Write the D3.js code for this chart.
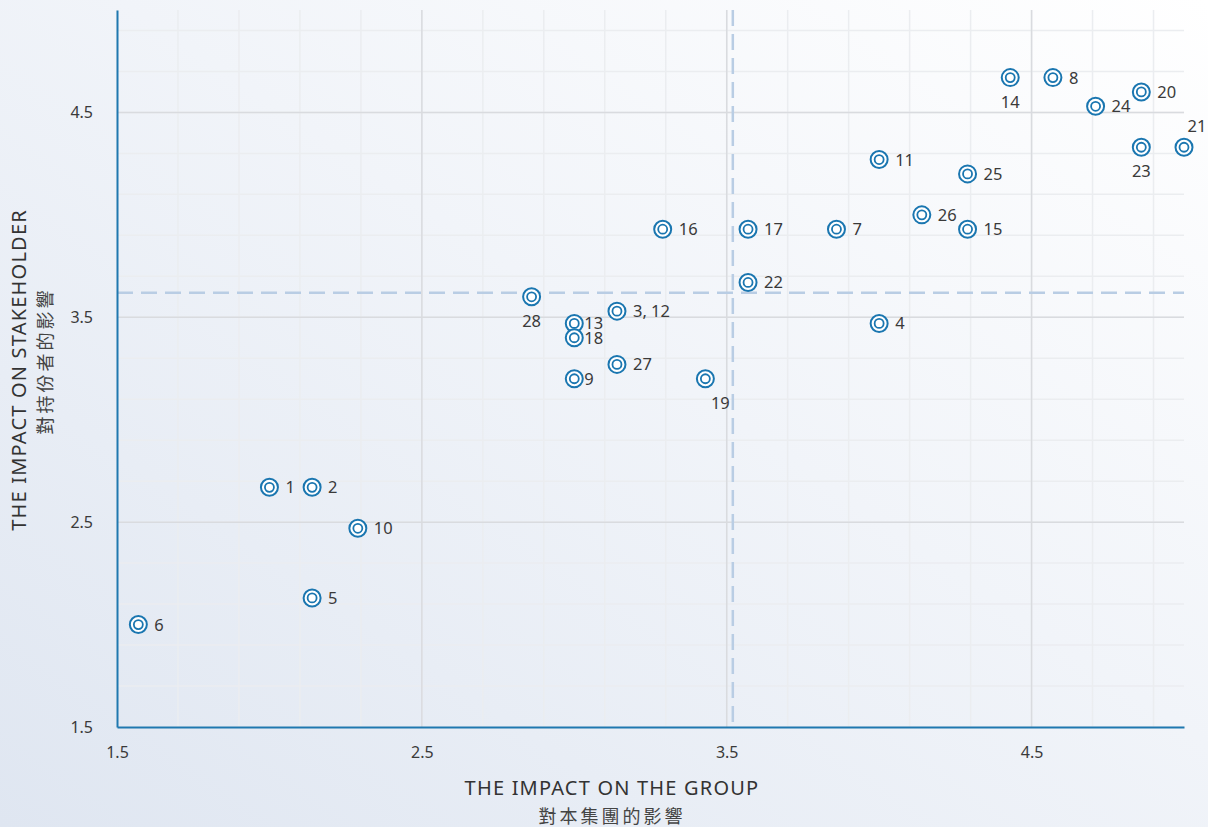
<!DOCTYPE html>
<html>
<head>
<meta charset="utf-8">
<script src="https://cdn.jsdelivr.net/npm/d3@7"></script>
<style>
  body { margin: 0; }
  svg { display: block; font-family: "Noto Sans", "Open Sans", sans-serif; }
</style>
</head>
<body>
<div class="matrix-chart"></div>
<script>
// issue ids and their scores
const issues = ['1','2','3, 12','4','5','6','7','8','9','10','11','13','14','15','16','17','18','19','20','21','22','23','24','25','26','27','28'];
const groupImpact = [2.0,2.14,3.14,4.0,2.14,1.57,3.86,4.57,3.0,2.29,4.0,3.0,4.43,4.29,3.29,3.57,3.0,3.43,4.86,5.0,3.57,4.86,4.71,4.29,4.14,3.14,2.86];
const stakeholderImpact = [2.67,2.67,3.53,3.47,2.13,2.0,3.93,4.67,3.2,2.47,4.27,3.47,4.67,3.93,3.93,3.93,3.4,3.2,4.6,4.33,3.67,4.33,4.53,4.2,4.0,3.27,3.6];
const avgGroup = 3.52;
const avgStakeholder = 3.62;
const tickVals = [1.5, 2.5, 3.5, 4.5];

// where the number sits relative to the marker
const below = ['14','23','28'];
const tight = ['9','13','18'];

const w = 1208;
const h = 827;
const m = {left: 117, right: 24, top: 10, bottom: 100};

const svg = d3.select('.matrix-chart')
  .append('svg')
  .attr('width', w)
  .attr('height', h);

const defs = svg.append('defs');
const grad = defs.append('linearGradient')
  .attr('id', 'bg')
  .attr('x1', '0%').attr('y1', '100%')
  .attr('x2', '100%').attr('y2', '0%');
grad.append('stop').attr('offset', '0%').attr('stop-color', '#dfe6f1');
grad.append('stop').attr('offset', '55%').attr('stop-color', '#f1f4f9');
grad.append('stop').attr('offset', '100%').attr('stop-color', '#ffffff');

svg.append('rect')
  .attr('width', w)
  .attr('height', h)
  .attr('fill', 'url(#bg)');

const x = d3.scaleLinear().domain([1.5, 5.0]).range([m.left, w - m.right]);
const y = d3.scaleLinear().domain([1.5, 5.0]).range([h - m.bottom, m.top]);

// minor grid
svg.append('g')
  .selectAll('line')
  .data(d3.range(18).map(i => 1.5 + i * 0.2))
  .enter()
  .append('line')
  .attr('x1', d => x(d)).attr('x2', d => x(d))
  .attr('y1', y(5.0)).attr('y2', y(1.5))
  .attr('stroke', '#ebedf0')
  .attr('stroke-width', 1.5);

svg.append('g')
  .selectAll('line')
  .data(d3.range(18).map(i => 1.5 + i * 0.2))
  .enter()
  .append('line')
  .attr('x1', x(1.5)).attr('x2', x(5.0))
  .attr('y1', d => y(d)).attr('y2', d => y(d))
  .attr('stroke', '#ebedf0')
  .attr('stroke-width', 1.5);

// major grid
svg.append('g')
  .selectAll('line')
  .data(tickVals.slice(1))
  .enter()
  .append('line')
  .attr('x1', d => x(d)).attr('x2', d => x(d))
  .attr('y1', y(5.0)).attr('y2', y(1.5))
  .attr('stroke', '#d9dbdf')
  .attr('stroke-width', 1.5);

svg.append('g')
  .selectAll('line')
  .data(tickVals.slice(1))
  .enter()
  .append('line')
  .attr('x1', x(1.5)).attr('x2', x(5.0))
  .attr('y1', d => y(d)).attr('y2', d => y(d))
  .attr('stroke', '#d9dbdf')
  .attr('stroke-width', 1.5);

// average lines
svg.append('line')
  .attr('x1', x(avgGroup)).attr('x2', x(avgGroup))
  .attr('y1', y(5.0)).attr('y2', y(1.5))
  .attr('stroke', '#b9cde4')
  .attr('stroke-width', 2.5)
  .attr('stroke-dasharray', '16,8');

svg.append('line')
  .attr('x1', x(1.5)).attr('x2', x(5.0))
  .attr('y1', y(avgStakeholder)).attr('y2', y(avgStakeholder))
  .attr('stroke', '#b9cde4')
  .attr('stroke-width', 2.5)
  .attr('stroke-dasharray', '16,8');

// axes
const xAxis = svg.append('g')
  .attr('transform', `translate(0,${y(1.5)})`)
  .call(d3.axisBottom(x).tickValues(tickVals).tickSize(0).tickPadding(20).tickFormat(d3.format('.1f')));
const yAxis = svg.append('g')
  .attr('transform', `translate(${x(1.5)},0)`)
  .call(d3.axisLeft(y).tickValues(tickVals).tickSize(0).tickPadding(24).tickFormat(d3.format('.1f')));

[xAxis, yAxis].forEach(a => {
  a.select('.domain').attr('stroke', '#1f78b0').attr('stroke-width', 2);
  a.selectAll('text')
    .attr('font-family', '"Noto Sans", sans-serif')
    .attr('font-size', 16)
    .attr('fill', '#3a3a3a');
});

// axis titles
svg.append('text')
  .attr('x', 612).attr('y', 795)
  .attr('text-anchor', 'middle')
  .attr('font-size', 20)
  .attr('letter-spacing', 1.2)
  .attr('fill', '#333')
  .text('THE IMPACT ON THE GROUP');
svg.append('text')
  .attr('x', 612).attr('y', 823)
  .attr('text-anchor', 'middle')
  .attr('font-size', 18)
  .attr('letter-spacing', 3)
  .attr('font-family', '"Noto Sans CJK TC", sans-serif')
  .attr('fill', '#444')
  .text('對本集團的影響');

svg.append('text')
  .attr('transform', 'translate(26,370) rotate(-90)')
  .attr('text-anchor', 'middle')
  .attr('font-size', 20)
  .attr('letter-spacing', 1.2)
  .attr('fill', '#333')
  .text('THE IMPACT ON STAKEHOLDER');
svg.append('text')
  .attr('transform', 'translate(52,361) rotate(-90)')
  .attr('text-anchor', 'middle')
  .attr('font-size', 18)
  .attr('letter-spacing', 3)
  .attr('font-family', '"Noto Sans CJK TC", sans-serif')
  .attr('fill', '#444')
  .text('對持份者的影響');

// points
const pts = issues.map((id, i) => ({id, gx: groupImpact[i], sy: stakeholderImpact[i]}));

const g = svg.append('g')
  .selectAll('g')
  .data(pts)
  .enter()
  .append('g')
  .attr('transform', d => `translate(${x(d.gx)},${y(d.sy)})`);

g.append('circle')
  .attr('r', 8.5)
  .attr('fill', '#fff')
  .attr('stroke', '#1a76b0')
  .attr('stroke-width', 2);
g.append('circle')
  .attr('r', 4.5)
  .attr('fill', 'none')
  .attr('stroke', '#1a76b0')
  .attr('stroke-width', 1.8);

g.append('text')
  .attr('x', d => {
    if (below.includes(d.id)) return 0;
    if (d.id == '19') return 15;
    if (d.id == '21') return 13;
    if (tight.includes(d.id)) return 10;
    return 16;
  })
  .attr('y', d => {
    if (below.includes(d.id) || d.id == '19') return 30;
    if (d.id == '21') return -15;
    return 6;
  })
  .attr('text-anchor', d => (below.includes(d.id) || d.id == '19' || d.id == '21') ? 'middle' : 'start')
  .attr('font-size', 16.5)
  .attr('fill', '#3a3a3a')
  .text(d => d.id);
</script>
</body>
</html>
